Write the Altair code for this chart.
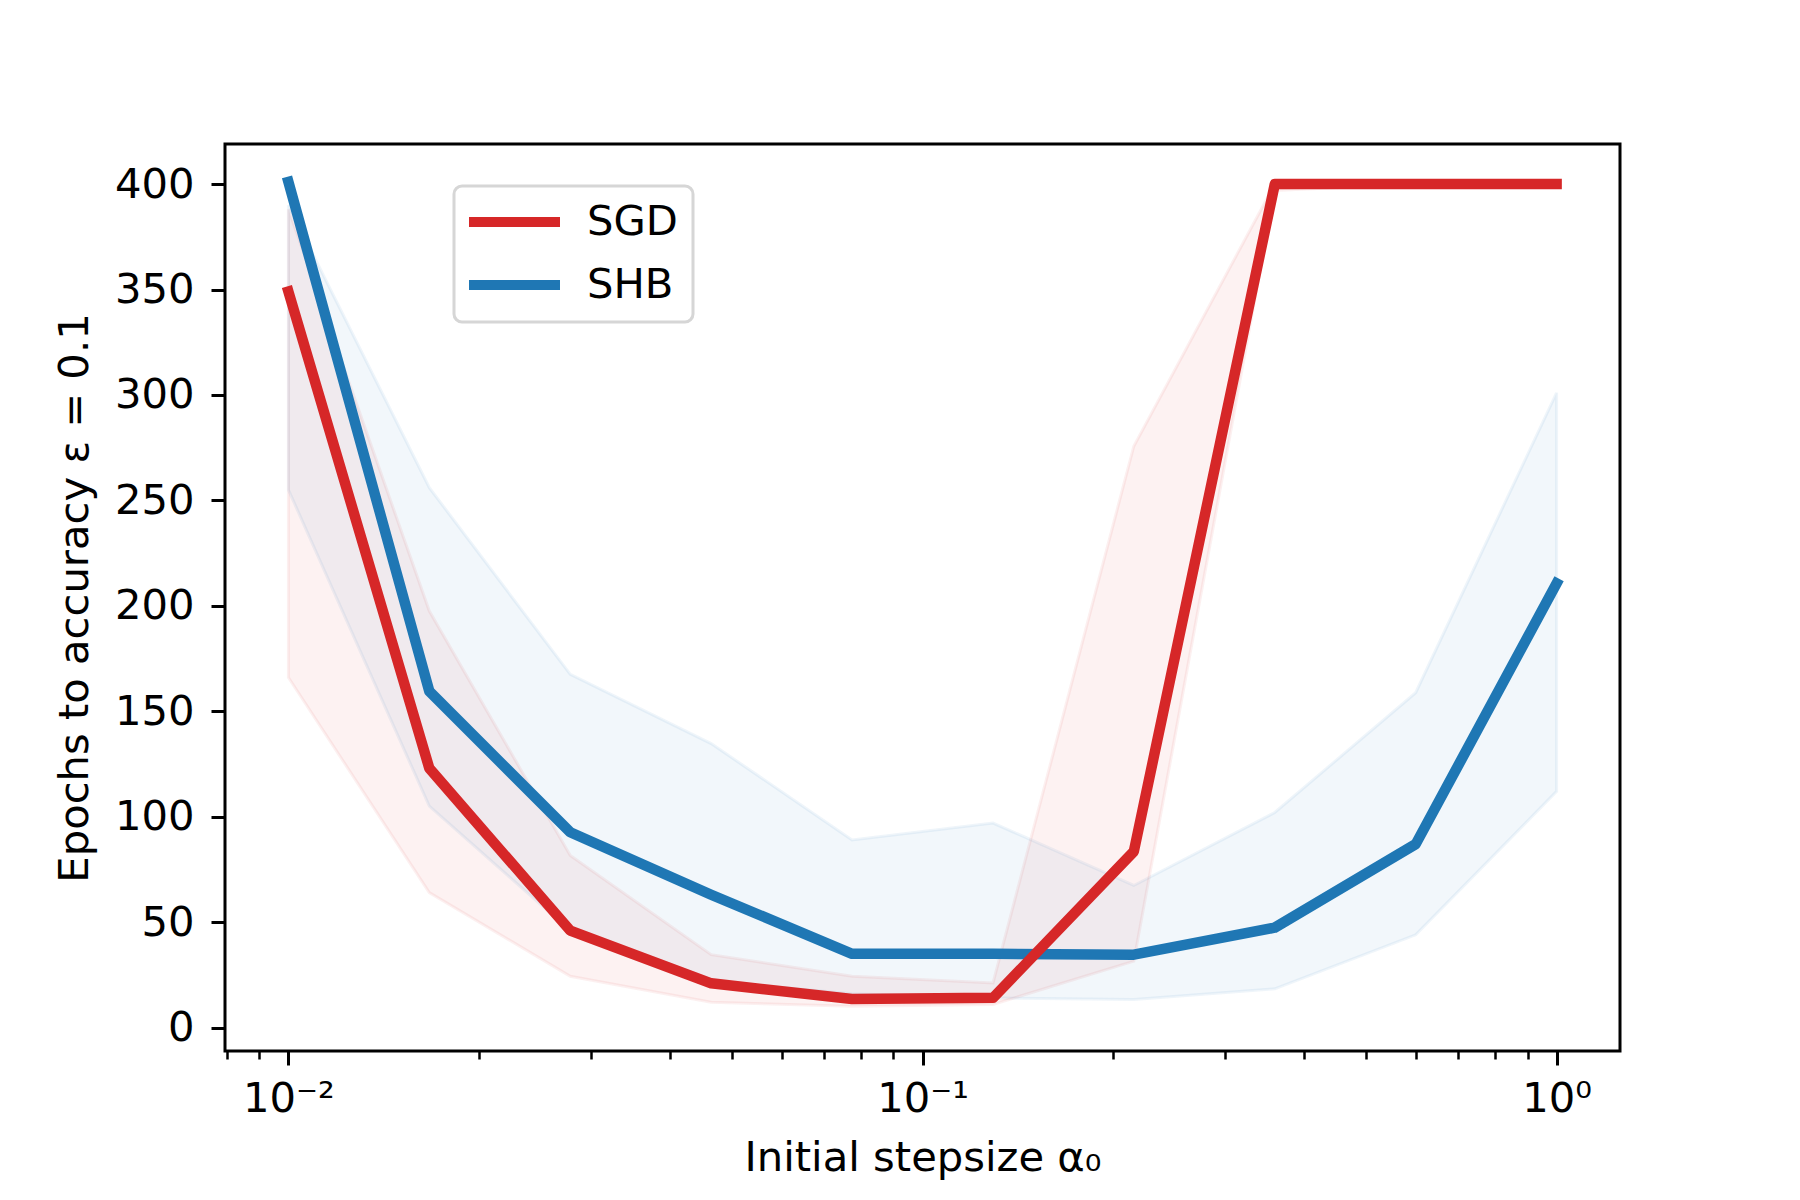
import json
import altair as alt
import pandas as pd

# ---- data ----
alpha = [0.01, 0.01668, 0.02783, 0.04642, 0.07743, 0.1292, 0.2154, 0.3594, 0.5995, 1.0]

sgd_mean = [349, 123, 46, 21, 13.6, 14.1, 83.5, 400, 400, 400]
sgd_lo = [166, 64, 24.3, 12, 10.1, 11, 31.5, 397, 400, 400]
sgd_hi = [388, 197.5, 81.6, 34.6, 24.3, 21.2, 275.7, 400, 400, 400]

shb_mean = [401, 159.5, 92.6, 63, 35, 35, 34.6, 47.4, 87, 210.6]
shb_lo = [255, 105, 46, 22, 16, 14, 13.3, 18.4, 44, 112]
shb_hi = [390, 256, 167.5, 134.7, 89, 97, 67.4, 102, 158.8, 301]

methods = ["SGD", "SHB"]
colors = ["#d62728", "#1f77b4"]

y_ticks = [0, 50, 100, 150, 200, 250, 300, 350, 400]
x_major = [0.01, 0.1, 1.0]
x_labels = ["10⁻²", "10⁻¹", "10⁰"]
x_minor = [0.008, 0.009, 0.02, 0.03, 0.04, 0.05, 0.06, 0.07, 0.08, 0.09,
           0.2, 0.3, 0.4, 0.5, 0.6, 0.7, 0.8, 0.9]

rows = []
for m, mean, lo, hi in [("SGD", sgd_mean, sgd_lo, sgd_hi), ("SHB", shb_mean, shb_lo, shb_hi)]:
    for a, mv, l, h in zip(alpha, mean, lo, hi):
        rows.append({"method": m, "alpha": a, "mean": mv, "lo": l, "hi": h})
df = pd.DataFrame(rows)

FONT = "DejaVu Sans"
FS = 41.7

x_scale = alt.Scale(type="log", domain=[0.0079433, 1.2589], nice=False)
y_scale = alt.Scale(domain=[-11.1, 419], nice=False, zero=False)

y_axis = alt.Axis(
    values=y_ticks, title="Epochs to accuracy ε = 0.1", tickSize=14, tickWidth=3,
    tickColor="black", labelFontSize=FS, labelPadding=17, titleFontSize=FS,
    titlePadding=18, domain=False, grid=False, labelColor="black",
    titleColor="black", titleFontWeight="normal", labelFont=FONT, titleFont=FONT,
)

label_expr = json.dumps(x_labels, ensure_ascii=False) + "[round(log(datum.value)/LN10) + 2]"
x_axis_major = alt.Axis(
    values=x_major, labelExpr=label_expr, orient="bottom", tickSize=14, tickWidth=3,
    tickColor="black", labelFontSize=FS, labelPadding=13, title="Initial stepsize α₀",
    titleFontSize=FS, titlePadding=18, domain=False, grid=False, labelColor="black",
    titleColor="black", titleFontWeight="normal", labelFont=FONT, titleFont=FONT,
    labelFlush=False,
)
x_axis_minor = alt.Axis(
    values=x_minor, orient="bottom", tickSize=8, tickWidth=2.5, tickColor="black",
    labels=False, domain=False, grid=False, title=None,
)

color_enc = alt.Color(
    "method:N",
    scale=alt.Scale(domain=methods, range=colors),
    legend=alt.Legend(
        title=None, orient="none", legendX=229, legendY=42, symbolType="stroke",
        symbolSize=8649, symbolStrokeWidth=10, symbolOffset=-7, labelFontSize=FS,
        labelFont=FONT, labelColor="black", labelOffset=22, clipHeight=42,
        rowPadding=20, padding=15, strokeColor="#d6d6d6", cornerRadius=8,
        fillColor="white",
    ),
)

base = alt.Chart(df)


def band(m, color, xaxis):
    return base.transform_filter(alt.datum.method == m).mark_area(
        fill=color, fillOpacity=0.06, stroke=color, strokeOpacity=0.07, strokeWidth=3
    ).encode(
        x=alt.X("alpha:Q", scale=x_scale, axis=xaxis),
        y=alt.Y("lo:Q", scale=y_scale, axis=y_axis),
        y2="hi:Q",
    )


def line(m, xaxis):
    return base.transform_filter(alt.datum.method == m).mark_line(
        strokeWidth=10.5, strokeJoin="round", strokeCap="square"
    ).encode(
        x=alt.X("alpha:Q", scale=x_scale, axis=xaxis),
        y=alt.Y("mean:Q", scale=y_scale, axis=y_axis),
        color=color_enc,
    )


chart = alt.layer(
    band("SGD", colors[0], x_axis_minor),
    band("SHB", colors[1], None),
    line("SHB", None),
    line("SGD", x_axis_major),
).resolve_axis(x="independent").properties(
    width=1395, height=907,
    padding={"left": 217, "top": 136, "right": 160, "bottom": 130},
    autosize=alt.AutoSizeParams(type="none"),
).configure(font=FONT).configure_view(
    stroke="black", strokeWidth=3
).configure_legend(strokeWidth=3)

chart.save("out.html", embed_options={"renderer": "svg", "actions": False})
